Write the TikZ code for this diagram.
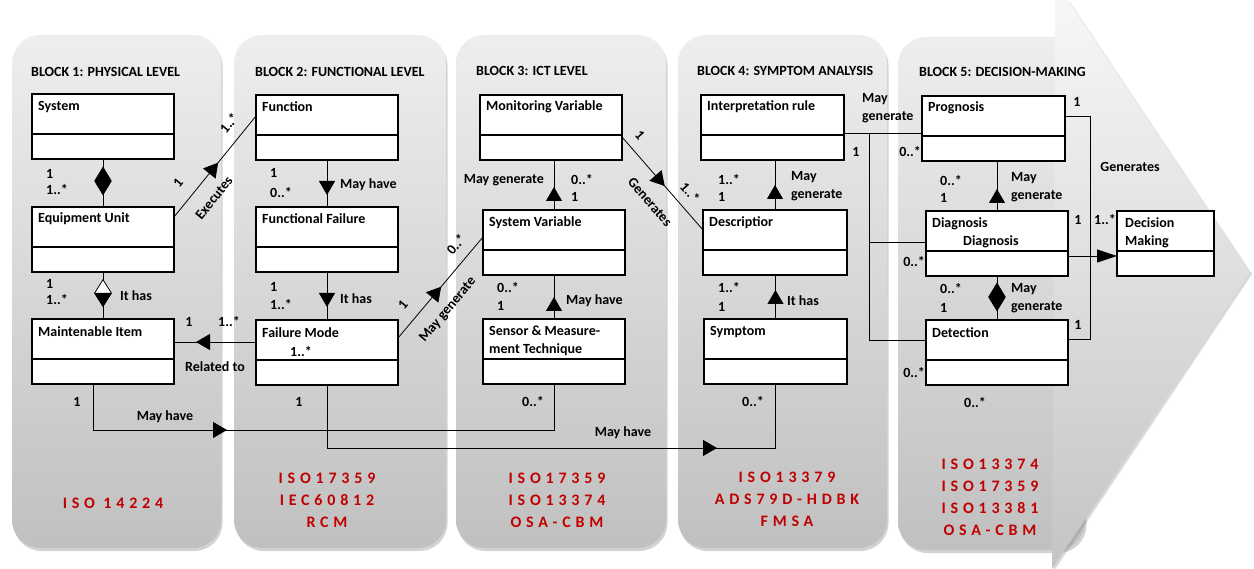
\documentclass[tikz,border=0pt]{standalone}
\usepackage{fontspec}
\setmainfont{Carlito}
\newfontfamily\stdfont[LetterSpace=30]{Carlito}
\usetikzlibrary{calc,shadows,arrows.meta,decorations.markings,shapes.geometric}
\definecolor{stdred}{RGB}{192,0,0}
\definecolor{pantop}{RGB}{238,238,238}
\definecolor{panbot}{RGB}{192,192,192}
\definecolor{arrtop}{RGB}{247,247,247}
\definecolor{arrbot}{RGB}{196,196,196}
\tikzset{
  panel/.style={rounded corners=28pt, top color=pantop, bottom color=panbot, draw=none,
    drop shadow={shadow xshift=1.5pt, shadow yshift=-3pt, opacity=0.35}},
  arrpanel/.style={top color=arrtop, bottom color=arrbot, draw=none,
    drop shadow={shadow xshift=2pt, shadow yshift=-2pt, opacity=0.3}},
  cls/.style={draw=black, fill=white, line width=1.1pt, minimum width=142pt, minimum height=65pt,
    anchor=north west, inner sep=0pt, outer sep=0pt},
  nm/.style={font=\fontsize{14}{18}\selectfont\bfseries, anchor=west, inner sep=0pt, align=left},
  lbl/.style={font=\fontsize{14}{17}\selectfont\bfseries, inner sep=0pt},
  std/.style={font=\stdfont\fontsize{16}{22}\selectfont\bfseries, text=stdred, inner sep=0pt, align=center},
  conn/.style={line width=0.8pt, draw=black},
  tri/.style={postaction={decorate, decoration={markings,
    mark=at position #1 with {\arrow{Triangle[length=14pt,width=16pt]}}}}},
  fdiam/.style={diamond, fill=black, draw=black, line width=0.6pt, inner sep=0pt, minimum width=17pt, minimum height=28pt},
  odiam/.style={diamond, fill=white, draw=black, line width=0.8pt, inner sep=0pt, minimum width=17pt, minimum height=27pt},
}
\begin{document}
\begin{tikzpicture}[x=1pt,y=-1pt]
\useasboundingbox (0,0) rectangle (1254,569);
% panels
\path[panel] (12,35) rectangle (221,548);
\path[panel] (234,35) rectangle (446,548);
\path[panel] (456,35) rectangle (666,548);
\path[panel] (678,35) rectangle (887,548);
\path[panel] (898,37) rectangle (1085,550);
\path[arrpanel] (1055,0) -- (1068,0) -- (1250,272) -- (1052,569) -- cycle;

% titles
\node[lbl,anchor=west] (t1) at (31,72) {BLOCK 1: PHYSICAL LEVEL};
\node[lbl,anchor=west] (t2) at (255,72) {BLOCK 2: FUNCTIONAL LEVEL};
\node[lbl,anchor=west] (t3) at (476,71) {BLOCK 3: ICT LEVEL};
\node[lbl,anchor=west] (t4) at (697,71) {BLOCK 4: SYMPTOM ANALYSIS};
\node[lbl,anchor=west] (t5) at (919,72) {BLOCK 5: DECISION-MAKING};

% classes
\node[cls] (sys) at (32,94) {};
\node[cls] (eq) at (32,207) {};
\node[cls] (mi) at (32,319) {};
\node[cls] (fun) at (256,95) {};
\node[cls] (ff) at (256,207) {};
\node[cls] (fm) at (256,320) {};
\node[cls] (mv) at (480,95) {};
\node[cls] (sv) at (483,210) {};
\node[cls] (sen) at (483,319) {};
\node[cls,minimum width=143pt] (ir) at (701,95) {};
\node[cls,minimum width=144pt] (desc) at (703,210) {};
\node[cls,minimum width=143pt] (sym) at (704,319) {};
\node[cls,minimum width=143pt] (prog) at (922,96) {};
\node[cls] (diag) at (926,211) {};
\node[cls] (det) at (926,320) {};
\node[cls,minimum width=97pt] (dm) at (1117,211) {};
\foreach \b in {sys,eq,mi,fun,ff,fm,mv,sv,sen,ir,desc,sym,prog,diag,det,dm}{
  \draw[line width=1.1pt] ($(\b.north west)+(0,40)$) -- ($(\b.north east)+(0,40)$);
}
% class names
\node[nm] (sysT) at ($(sys.north west)+(6,13)$) {System};
\node[nm] (eqT) at ($(eq.north west)+(6,12)$) {Equipment Unit};
\node[nm] (miT) at ($(mi.north west)+(6,13)$) {Maintenable Item};
\node[nm] (funT) at ($(fun.north west)+(6,12)$) {Function};
\node[nm] (ffT) at ($(ff.north west)+(6,12)$) {Functional Failure};
\node[nm] (fmT) at ($(fm.north west)+(6,13)$) {Failure Mode};
\node[lbl,anchor=west] (fmM) at (290,352) {1..*};
\node[nm] (mvT) at ($(mv.north west)+(6,12)$) {Monitoring Variable};
\node[nm] (svT) at ($(sv.north west)+(6,13)$) {System Variable};
\node[nm,anchor=north west] (senT) at ($(sen.north west)+(6,7)$) {Sensor \& Measure-\\ment Technique};
\node[nm] (irT) at ($(ir.north west)+(6,12)$) {Interpretation rule};
\node[nm] (descT) at ($(desc.north west)+(6,13)$) {Descriptior};
\node[nm] (symT) at ($(sym.north west)+(6,13)$) {Symptom};
\node[nm] (progT) at ($(prog.north west)+(6,12)$) {Prognosis};
\node[nm] (diagT) at ($(diag.north west)+(6,13)$) {Diagnosis};
\node[nm] (diagT2) at ($(diag.north west)+(37,31)$) {Diagnosis};
\node[nm,anchor=north west] (dmT) at ($(dm.north west)+(8,6)$) {Decision\\Making};
\node[nm] (detT) at ($(det.north west)+(6,13)$) {Detection};

% ---------- connectors block 1
\draw[conn] (sys.south) -- (eq.north);
\node[fdiam] (d1) at ($(sys.south)+(0,22)$) {};
\draw[conn] (eq.south) -- (mi.north);
\node[odiam] (d2) at ($(eq.south)+(0,21)$) {};
\fill[black] (d2.west) -- (d2.east) -- (d2.south) -- cycle;
\draw[conn,tri=70pt] ($(eq.north east)+(0,10)$) -- ($(fun.north west)+(0,21)$);
\draw[conn,tri=60pt] ($(fm.north west)+(0,22)$) -- ($(mi.north east)+(0,23)$);
\draw[conn,tri=180pt] ($(mi.south west)+(61,0)$) |- ($(sen.south)+(0,46)$) -- (sen.south);
% block 2
\draw[conn,tri=35pt] (fun.south) -- (ff.north);
\draw[conn,tri=35pt] (ff.south) -- (fm.north);
\draw[conn,tri=67pt] ($(fm.north east)+(0,18)$) -- ($(sv.north west)+(0,27)$);
\draw[conn,tri=453pt] (fm.south) |- ($(sym.south)+(0,64)$) -- (sym.south);
% block 3
\draw[conn,tri=23pt] (sv.north) -- (sv.north |- mv.south);
\draw[conn,tri=22pt] (sen.north) -- (sen.north |- sv.south);
\draw[conn,tri=65pt] ($(mv.north east)+(0,42)$) -- ($(desc.north west)+(0,20)$);
% block 4
\draw[conn,tri=25pt] (desc.north) -- (desc.north |- ir.south);
\draw[conn,tri=29pt] (sym.north) -- (sym.north |- desc.south);
\draw[conn] ($(ir.north east)+(0,38)$) -- ($(prog.north west)+(0,37)$);
\coordinate (jn) at ($(ir.north east)+(25,38)$);
\draw[conn] (jn) |- ($(diag.north west)+(0,31)$);
\draw[conn] (jn) |- ($(det.north west)+(0,20)$);
% block 5
\draw[conn,tri=22pt] (diag.north) -- (diag.north |- prog.south);
\draw[conn] (det.north) -- (det.north |- diag.south);
\node[fdiam] (d3) at ($(det.north |- diag.south)+(0,21)$) {};
\draw[conn,-{Triangle[length=20pt,width=13pt]}] ($(diag.north east)+(0,45)$) -- ($(dm.north west)+(0,45)$);
\draw[conn] ($(prog.north east)+(0,20)$) -- ++(25,0) |- ($(det.north east)+(0,19)$);

% ---------- labels block 1
\node[lbl,anchor=west] (a1) at (46,174) {1};
\node[lbl,anchor=west] (a2) at (46,190) {1..*};
\node[lbl,anchor=west] (a3) at (46,284) {1};
\node[lbl,anchor=west] (a4) at (46,300) {1..*};
\node[lbl,anchor=west] (a5) at (120,296) {It has};
\node[lbl,rotate=51] (a6) at (178,183) {1};
\node[lbl,rotate=51] (a7) at (229,123) {1..*};
\node[lbl,rotate=51] (a8) at (214,198) {Executes};
\node[lbl] (a9) at (189,322) {1};
\node[lbl] (a10) at (229,322) {1..*};
\node[lbl] (a11) at (215,367) {Related to};
\node[lbl] (a12) at (77,402) {1};
\node[lbl] (a13) at (165,417) {May have};
% block 2
\node[lbl,anchor=west] (b1) at (270,173) {1};
\node[lbl,anchor=west] (b2) at (270,193) {0..*};
\node[lbl,anchor=west] (b3) at (340,185) {May have};
\node[lbl,anchor=west] (b4) at (270,287) {1};
\node[lbl,anchor=west] (b5) at (270,305) {1..*};
\node[lbl,anchor=west] (b6) at (340,299) {It has};
\node[lbl] (b7) at (299,402) {1};
\node[lbl,rotate=50] (b8) at (403,305) {1};
\node[lbl,rotate=50] (b9) at (456,244) {0..*};
\node[lbl,rotate=50] (b10) at (448,310) {May generate};
% block 3
\node[lbl,anchor=east] (c1) at (544,180) {May generate};
\node[lbl,anchor=west] (c2) at (571,180) {0..*};
\node[lbl,anchor=west] (c3) at (571,197) {1};
\node[lbl,anchor=west] (c4) at (497,288) {0..*};
\node[lbl,anchor=west] (c5) at (497,306) {1};
\node[lbl,anchor=west] (c6) at (566,301) {May have};
\node[lbl] (c7) at (533,402) {0..*};
\node[lbl] (c8) at (623,433) {May have};
\node[lbl,rotate=-49] (c9) at (640,135) {1};
\node[lbl,rotate=-49] (c10) at (650,202) {Generates};
\node[lbl,rotate=-49] (c11) at (690,192) {1..*};
% block 4
\node[lbl,anchor=west] (e1) at (718,180) {1..*};
\node[lbl,anchor=west] (e2) at (718,197) {1};
\node[lbl,anchor=west] (e3) at (791,177) {May};
\node[lbl,anchor=west] (e4) at (791,195) {generate};
\node[lbl,anchor=west] (e5) at (718,288) {1..*};
\node[lbl,anchor=west] (e6) at (718,307) {1};
\node[lbl,anchor=west] (e7) at (787,301) {It has};
\node[lbl] (e8) at (753,402) {0..*};
\node[lbl,anchor=west] (e9) at (862,99) {May};
\node[lbl,anchor=west] (e10) at (862,117) {generate};
\node[lbl] (e11) at (856,152) {1};
% block 5
\node[lbl,anchor=east] (f1) at (921,152) {0..*};
\node[lbl,anchor=east] (f2) at (925,262) {0..*};
\node[lbl,anchor=east] (f3) at (925,373) {0..*};
\node[lbl,anchor=west] (f4) at (940,181) {0..*};
\node[lbl,anchor=west] (f5) at (940,198) {1};
\node[lbl,anchor=west] (f6) at (1011,178) {May};
\node[lbl,anchor=west] (f7) at (1011,196) {generate};
\node[lbl,anchor=west] (f8) at (940,289) {0..*};
\node[lbl,anchor=west] (f9) at (940,308) {1};
\node[lbl,anchor=west] (f10) at (1011,289) {May};
\node[lbl,anchor=west] (f11) at (1011,307) {generate};
\node[lbl] (f12) at (1077,102) {1};
\node[lbl] (f13) at (1130,167) {Generates};
\node[lbl] (f14) at (1078,220) {1};
\node[lbl] (f15) at (1105,220) {1..*};
\node[lbl] (f16) at (1078,325) {1};
\node[lbl] (f17) at (975,403) {0..*};

% standards
\node[std] (s1) at (113,503) {ISO 14224};
\node[std] (s2) at (327,500) {ISO17359\\IEC60812\\RCM};
\node[std] (s3) at (557,500) {ISO17359\\ISO13374\\OSA-CBM};
\node[std] (s4) at (787,499) {ISO13379\\ADS79D-HDBK\\FMSA};
\node[std] (s5) at (990,497.5) {ISO13374\\ISO17359\\ISO13381\\OSA-CBM};
\end{tikzpicture}
\end{document}
